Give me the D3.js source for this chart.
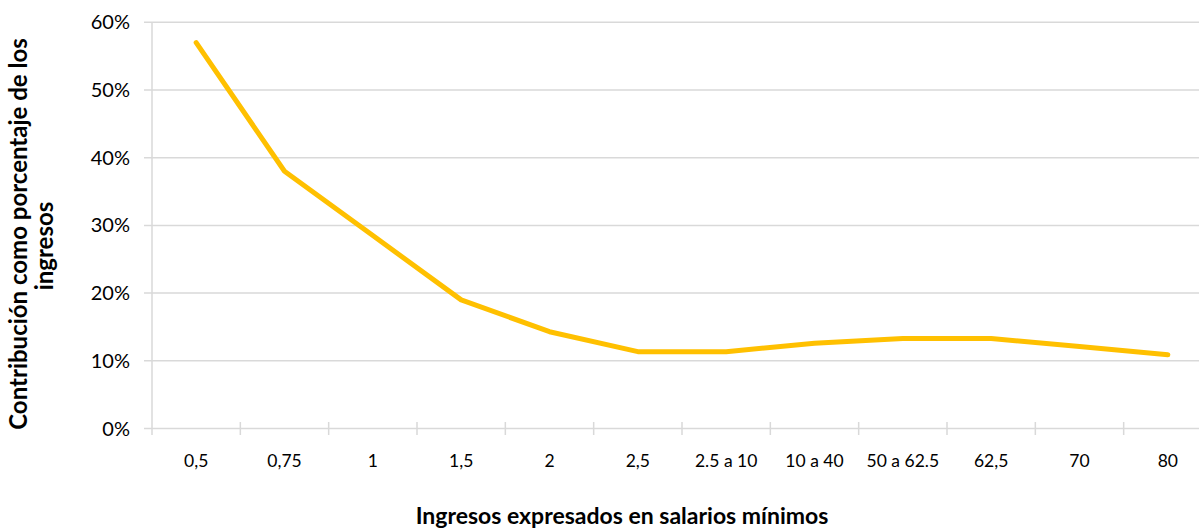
<!DOCTYPE html>
<html>
<head>
<meta charset="utf-8">
<script src="https://cdn.jsdelivr.net/npm/d3@7"></script>
<style>
  html, body { margin: 0; padding: 0; background: #fff; }
  svg { display: block; font-family: Lato, "Open Sans", sans-serif; }
</style>
</head>
<body>
<svg id="chart" width="1199" height="531"></svg>
<script>
// Income brackets, expressed in minimum wages
const categories = ["0,5", "0,75", "1", "1,5", "2", "2,5", "2.5 a 10", "10 a 40", "50 a 62.5", "62,5", "70", "80"];
// Contribution as a share of income
const contribution = [0.57, 0.38, 0.285, 0.19, 0.143, 0.1135, 0.1135, 0.126, 0.133, 0.133, 0.121, 0.109];
const yTicks = [0, 0.1, 0.2, 0.3, 0.4, 0.5, 0.6];

const svg = d3.select("#chart");
const plotLeft = 152, plotRight = 1212, plotTop = 22.3, plotBottom = 428.5;

const x = d3.scaleBand().domain(categories).range([plotLeft, plotRight]).padding(0);
const y = d3.scaleLinear().domain([0, 0.6]).range([plotBottom, plotTop]);

const gridColor = "#d9d9d9";

// horizontal gridlines with short ticks left of the axis
svg.append("g")
  .selectAll("line")
  .data(yTicks.filter(d => d > 0))
  .join("line")
  .attr("x1", plotLeft - 8).attr("x2", plotRight)
  .attr("y1", d => y(d)).attr("y2", d => y(d))
  .attr("stroke", gridColor).attr("stroke-width", 1.5);

// y axis line
svg.append("line")
  .attr("x1", plotLeft).attr("x2", plotLeft)
  .attr("y1", plotTop).attr("y2", plotBottom + 6.5)
  .attr("stroke", gridColor).attr("stroke-width", 1.5);

// x axis line
svg.append("line")
  .attr("x1", plotLeft - 8).attr("x2", plotRight)
  .attr("y1", plotBottom).attr("y2", plotBottom)
  .attr("stroke", gridColor).attr("stroke-width", 1.5);

// crossing tick marks between categories
svg.append("g")
  .selectAll("line")
  .data(categories.slice(1))
  .join("line")
  .attr("x1", d => x(d)).attr("x2", d => x(d))
  .attr("y1", plotBottom - 6.5).attr("y2", plotBottom + 6.5)
  .attr("stroke", gridColor).attr("stroke-width", 1.5);

// y tick labels
svg.append("g")
  .selectAll("text")
  .data(yTicks)
  .join("text")
  .attr("x", 130).attr("y", d => y(d))
  .attr("dy", "0.35em")
  .attr("text-anchor", "end")
  .attr("font-size", 20)
  .attr("fill", "#000")
  .text(d => d3.format(".0%")(d));

// x tick labels
svg.append("g")
  .selectAll("text")
  .data(categories)
  .join("text")
  .attr("x", d => x(d) + x.bandwidth() / 2)
  .attr("y", 461)
  .attr("dy", "0.35em")
  .attr("text-anchor", "middle")
  .attr("font-size", 17.5)
  .attr("fill", "#000")
  .text(d => d);

// data line
const line = d3.line()
  .x((d, i) => x(categories[i]) + x.bandwidth() / 2)
  .y(d => y(d));

svg.append("path")
  .datum(contribution)
  .attr("d", line)
  .attr("fill", "none")
  .attr("stroke", "#FFC000")
  .attr("stroke-width", 5)
  .attr("stroke-linejoin", "round")
  .attr("stroke-linecap", "round");

// axis titles
svg.append("text")
  .attr("x", 622).attr("y", 524)
  .attr("text-anchor", "middle")
  .attr("font-size", 23)
  .attr("font-weight", "bold")
  .text("Ingresos expresados en salarios mínimos");

const yTitle = svg.append("g").attr("font-size", 24).attr("font-weight", "bold");
yTitle.append("text")
  .attr("transform", "translate(27,234) rotate(-90)")
  .attr("text-anchor", "middle")
  .text("Contribución como porcentaje de los");
yTitle.append("text")
  .attr("transform", "translate(53,246) rotate(-90)")
  .attr("text-anchor", "middle")
  .text("ingresos");
</script>
</body>
</html>
